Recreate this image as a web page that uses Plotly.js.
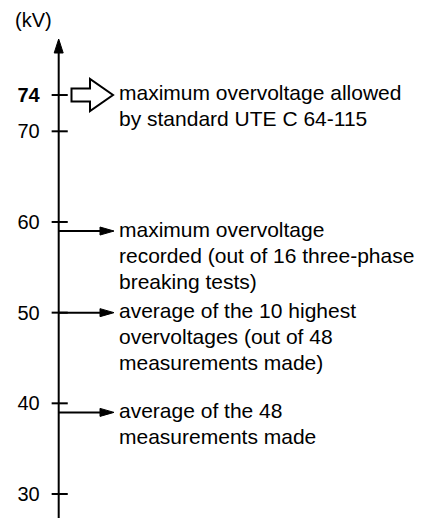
<!DOCTYPE html>
<html><head><meta charset="utf-8">
<script src="https://cdn.plot.ly/plotly-3.0.1.min.js"></script>
<style>html,body{margin:0;padding:0;background:#fff}#chart{width:431px;height:518px}</style>
</head><body><div id="chart"></div>
<script>
// ---- data ----
const tickVals = [30, 40, 50, 60, 70, 74];
const tickText = ['30', '40', '50', '60', '70', '<b>74</b>'];
const unitLabel = '(kV)';
const standardLimit = 74;
const standardLabel = ['maximum overvoltage allowed', 'by standard UTE C 64-115'];
const measuredValues = [59, 50, 39];
const measuredLabels = [
  ['maximum overvoltage', 'recorded (out of 16 three-phase', 'breaking tests)'],
  ['average of the 10 highest', 'overvoltages (out of 48', 'measurements made)'],
  ['average of the 48', 'measurements made']
];

// ---- layout / styling ----
const W = 431, H = 518;
const axisX = 58.7;
const textX = 116.5;
const font = 'Liberation Sans, Arial, Helvetica, sans-serif';
const yRange = [27.353, 84.48];

const shapes = [];
const annotations = [];

// vertical axis with arrowhead
shapes.push({type: 'line', xref: 'x', yref: 'paper', x0: axisX, x1: axisX, y0: 0, y1: 1 - 50 / H,
  line: {color: 'black', width: 2}});
shapes.push({type: 'path', xref: 'x', yref: 'paper', xsizemode: 'pixel', ysizemode: 'pixel',
  xanchor: axisX, yanchor: 1 - 39 / H, path: 'M0,0 L-4.5,-14 L4.5,-14 Z',
  fillcolor: 'black', line: {color: 'black', width: 1}});

// hollow arrow for the standard limit
shapes.push({type: 'path', xref: 'x', yref: 'y', xsizemode: 'pixel', ysizemode: 'pixel',
  xanchor: 71.5, yanchor: standardLimit,
  path: 'M0,6.5 H18.5 V16 L41.5,0 L18.5,-16 V-6.5 H0 Z',
  fillcolor: 'white', line: {color: 'black', width: 2}});
standardLabel.forEach((t, i) => annotations.push({
  text: t, x: textX, xref: 'x', y: standardLimit, yref: 'y', xanchor: 'left', yanchor: 'middle',
  yshift: 3 - i * 26, showarrow: false, font: {family: font, size: 21, color: 'black'}
}));

// solid arrows for measured values
measuredValues.forEach((v, k) => {
  shapes.push({type: 'line', xref: 'x', yref: 'y', x0: axisX, x1: 102, y0: v, y1: v,
    line: {color: 'black', width: 2}});
  shapes.push({type: 'path', xref: 'x', yref: 'y', xsizemode: 'pixel', ysizemode: 'pixel',
    xanchor: 114, yanchor: v, path: 'M0,0 L-14,4 L-14,-4 Z',
    fillcolor: 'black', line: {color: 'black', width: 1}});
  measuredLabels[k].forEach((t, i) => annotations.push({
    text: t, x: textX, xref: 'x', y: v, yref: 'y', xanchor: 'left', yanchor: 'middle',
    yshift: 2 - i * 26, showarrow: false, font: {family: font, size: 21, color: 'black'}
  }));
});

// unit label
annotations.push({text: unitLabel, xref: 'paper', yref: 'paper', x: 13 / W, y: 1 - 20 / H,
  xanchor: 'left', yanchor: 'middle', showarrow: false, font: {family: font, size: 20, color: 'black'}});

const ticksTrace = {
  type: 'scatter', mode: 'markers', hoverinfo: 'skip',
  x: tickVals.map(() => axisX + 1), y: tickVals,
  marker: {symbol: 'line-ew', size: 11.5, line: {color: 'black', width: 2}}
};

const layout = {
  width: W, height: H,
  margin: {l: 0, r: 0, t: 0, b: 0, pad: 0},
  paper_bgcolor: 'white', plot_bgcolor: 'white',
  showlegend: false,
  xaxis: {range: [0, W], visible: false, fixedrange: true},
  yaxis: {range: yRange, anchor: 'free', position: axisX / W, showgrid: false, zeroline: false,
    showline: false, ticks: '', tickmode: 'array', tickvals: tickVals, ticktext: tickText,
    tickfont: {family: font, size: 20, color: 'black'}, ticklabelstandoff: 19, automargin: false,
    fixedrange: true},
  shapes: shapes,
  annotations: annotations
};

Plotly.newPlot('chart', [ticksTrace], layout, {displayModeBar: false, staticPlot: true});
</script>
</body></html>
